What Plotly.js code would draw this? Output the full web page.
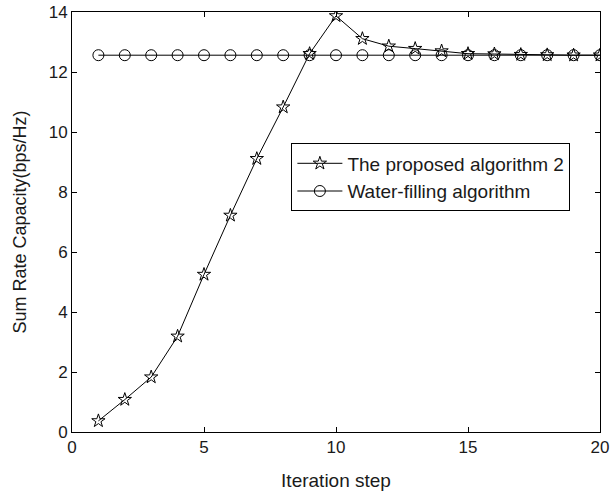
<!DOCTYPE html>
<html>
<head>
<meta charset="utf-8">
<script src="https://cdn.plot.ly/plotly-3.0.1.min.js"></script>
<style>html,body{margin:0;padding:0;background:#fff;}#chart{width:610px;height:496px;}</style>
</head>
<body>
<div id="chart"></div>
<script>
var iterations = [1,2,3,4,5,6,7,8,9,10,11,12,13,14,15,16,17,18,19,20];
var proposedAlg2 = [0.37,1.08,1.83,3.19,5.25,7.22,9.11,10.83,12.61,13.87,13.11,12.86,12.78,12.70,12.61,12.60,12.58,12.57,12.56,12.56];
var waterFilling = [12.56,12.56,12.56,12.56,12.56,12.56,12.56,12.56,12.56,12.56,12.56,12.56,12.56,12.56,12.56,12.56,12.56,12.56,12.56,12.56];
var seriesNames = ["The proposed algorithm 2", "Water-filling algorithm"];
var xTicks = [0,5,10,15,20];
var yTicks = [0,2,4,6,8,10,12,14];

var fontFam = "Liberation Sans, Arial, Helvetica, sans-serif";
var traces = [
  {x: iterations, y: proposedAlg2, name: seriesNames[0], type: "scatter", mode: "lines+markers",
   line: {color: "#000", width: 1},
   marker: {symbol: "star-open", size: 10, color: "#000", line: {color: "#000", width: 1}}},
  {x: iterations, y: waterFilling, name: seriesNames[1], type: "scatter", mode: "lines+markers",
   line: {color: "#000", width: 1},
   marker: {symbol: "circle-open", size: 11, color: "#000", line: {color: "#000", width: 1}}}
];
var layout = {
  width: 610, height: 496,
  margin: {l: 72, r: 10, t: 12, b: 64},
  paper_bgcolor: "#fff", plot_bgcolor: "#fff",
  font: {family: fontFam, size: 17, color: "#1a1a1a"},
  showlegend: true,
  legend: {x: 0.4155, y: 0.687, xanchor: "left", yanchor: "top",
    bgcolor: "#fff", bordercolor: "#000", borderwidth: 1, itemwidth: 45,
    font: {family: fontFam, size: 19, color: "#1a1a1a"}, tracegroupgap: 0},
  xaxis: {range: [0, 20], tickvals: xTicks, ticktext: xTicks.map(String),
    tickfont: {size: 17},
    ticks: "inside", ticklen: 5, tickcolor: "#000", showline: true, linecolor: "#000", linewidth: 1,
    mirror: "ticks", showgrid: false, zeroline: false,
    title: {text: "Iteration step", font: {size: 19}, standoff: 17}, automargin: false},
  yaxis: {range: [0, 14], tickvals: yTicks, ticktext: yTicks.map(String),
    tickfont: {size: 17},
    ticks: "inside", ticklen: 5, tickcolor: "#000", showline: true, linecolor: "#000", linewidth: 1,
    mirror: "ticks", showgrid: false, zeroline: false,
    title: {text: "Sum Rate Capacity(bps/Hz)", font: {size: 18}, standoff: 17}, automargin: false}
};
Plotly.newPlot("chart", traces, layout, {displayModeBar: false, staticPlot: true});
</script>
</body>
</html>
